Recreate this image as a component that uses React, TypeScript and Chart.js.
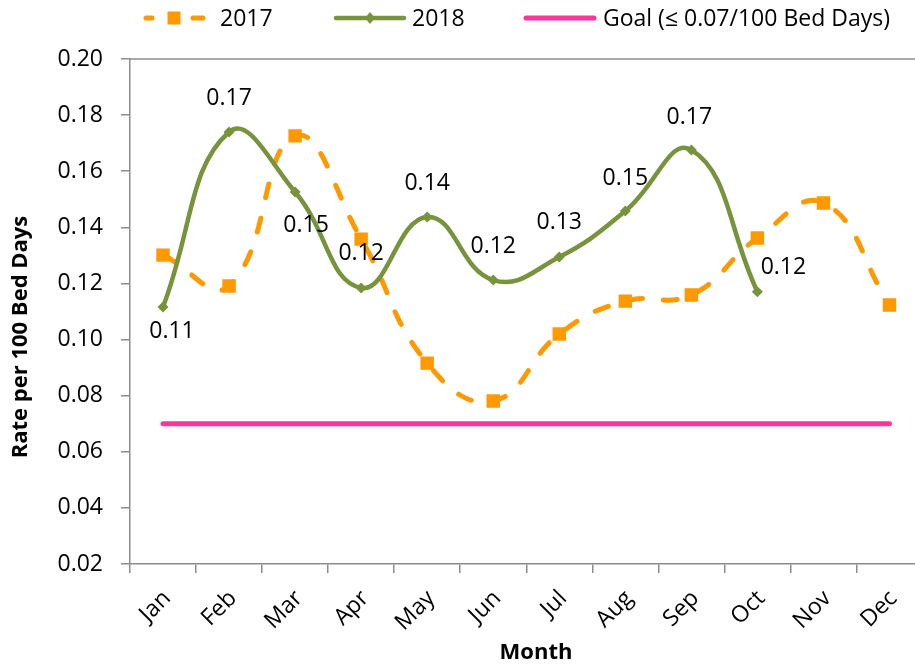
import React, { useEffect, useRef } from 'react';
import { Chart, registerables } from 'chart.js';

Chart.register(...registerables);

const months = ['Jan', 'Feb', 'Mar', 'Apr', 'May', 'Jun', 'Jul', 'Aug', 'Sep', 'Oct', 'Nov', 'Dec'];
const rate2017 = [0.1301, 0.1191, 0.1726, 0.1358, 0.0916, 0.0781, 0.102, 0.1137, 0.1159, 0.1362, 0.1487, 0.1123];
const rate2018: (number | null)[] = [0.1116, 0.174, 0.1526, 0.1184, 0.1437, 0.1212, 0.1294, 0.1458, 0.1676, 0.117, null, null];
const goalValue = 0.07;
const goalLine = months.map(() => goalValue);
const yMin = 0.02;
const yMax = 0.2;
const yStep = 0.02;
const seriesNames = ['2017', '2018', 'Goal (\u2264 0.07/100 Bed Days)'];
// label offsets (dx, dy) from each 2018 point
const label2018Offset: [number, number][] = [
  [9, 24], [0, -33], [11, 33], [0, -34], [0, -33], [0, -34], [0, -35], [0, -33], [-2, -32], [26, -24],
];
const xTitle = 'Month';
const yTitle = 'Rate per 100 Bed Days';

const FONT = "'Open Sans', sans-serif";
const ORANGE = '#FF9900';
const GREEN = '#77933C';
const PINK = '#FF3399';
const AXIS = '#8C8C8C';

const decorPlugin = {
  id: 'decor',
  afterDatasetsDraw(chart: any) {
    const { ctx, chartArea } = chart;
    ctx.save();
    ctx.strokeStyle = AXIS;
    ctx.lineWidth = 1.5;
    ctx.beginPath();
    ctx.moveTo(chartArea.left, chartArea.top);
    ctx.lineTo(chartArea.right, chartArea.top);
    ctx.stroke();

    const meta = chart.getDatasetMeta(1);
    ctx.fillStyle = '#000';
    ctx.font = `23px ${FONT}`;
    ctx.textAlign = 'center';
    ctx.textBaseline = 'middle';
    meta.data.forEach((pt: any, i: number) => {
      const v = rate2018[i];
      if (v == null) return;
      const [dx, dy] = label2018Offset[i];
      ctx.fillText(v.toFixed(2), pt.x + dx, pt.y + dy);
    });
    ctx.restore();
  },
  afterDraw(chart: any) {
    const { ctx } = chart;
    ctx.save();
    ctx.fillStyle = '#000';
    ctx.font = `bold 22px ${FONT}`;
    ctx.textAlign = 'center';
    ctx.textBaseline = 'middle';
    ctx.fillText(xTitle, 536, 653);
    ctx.save();
    ctx.translate(21, 337);
    ctx.rotate(-Math.PI / 2);
    ctx.font = `bold 22px ${FONT}`;
    ctx.fillText(yTitle, 0, 0);
    ctx.restore();

    const ly = 18;
    ctx.lineCap = 'round';
    ctx.strokeStyle = ORANGE;
    ctx.lineWidth = 5;
    ctx.beginPath();
    ctx.moveTo(146, ly); ctx.lineTo(152, ly);
    ctx.moveTo(193, ly); ctx.lineTo(203, ly);
    ctx.stroke();
    ctx.fillStyle = ORANGE;
    ctx.fillRect(174 - 6.5, ly - 6.5, 13, 13);

    ctx.strokeStyle = GREEN;
    ctx.lineWidth = 4.5;
    ctx.beginPath();
    ctx.moveTo(336, ly); ctx.lineTo(404, ly);
    ctx.stroke();
    ctx.fillStyle = GREEN;
    ctx.beginPath();
    ctx.moveTo(370, ly - 6); ctx.lineTo(375, ly); ctx.lineTo(370, ly + 6); ctx.lineTo(365, ly);
    ctx.closePath();
    ctx.fill();

    ctx.strokeStyle = PINK;
    ctx.lineWidth = 5;
    ctx.beginPath();
    ctx.moveTo(526, ly); ctx.lineTo(594, ly);
    ctx.stroke();

    ctx.fillStyle = '#000';
    ctx.font = `23px ${FONT}`;
    ctx.textAlign = 'left';
    ctx.fillText(seriesNames[0], 220, ly + 1);
    ctx.fillText(seriesNames[1], 412, ly + 1);
    ctx.fillText(seriesNames[2], 603, ly + 1);
    ctx.restore();
  },
};

export default function App() {
  const canvasRef = useRef<HTMLCanvasElement | null>(null);

  useEffect(() => {
    if (!canvasRef.current) return;
    const chart = new Chart(canvasRef.current, {
      type: 'line',
      data: {
        labels: months,
        datasets: [
          {
            label: seriesNames[0],
            data: rate2017,
            borderColor: ORANGE,
            backgroundColor: ORANGE,
            borderWidth: 5,
            borderDash: [14, 21],
            borderCapStyle: 'round',
            tension: 0.45,
            pointStyle: 'rect',
            pointRadius: 9.5,
            pointBorderWidth: 0,
            pointBackgroundColor: ORANGE,
            order: 1,
          },
          {
            label: seriesNames[1],
            data: rate2018,
            borderColor: GREEN,
            backgroundColor: GREEN,
            borderWidth: 4.5,
            tension: 0.45,
            pointStyle: 'rectRot',
            pointRadius: 5.5,
            pointBorderWidth: 0,
            pointBackgroundColor: GREEN,
            spanGaps: false,
            order: 0,
          },
          {
            label: seriesNames[2],
            data: goalLine,
            borderColor: PINK,
            borderWidth: 5,
            borderCapStyle: 'round',
            pointRadius: 0,
            tension: 0,
            order: 2,
          },
        ],
      },
      options: {
        animation: false,
        responsive: false,
        devicePixelRatio: 1,
        layout: { padding: { top: 59, left: 0, right: 0, bottom: 0 } },
        plugins: {
          legend: { display: false },
          tooltip: { enabled: false },
          title: { display: false },
        },
        scales: {
          x: {
            type: 'category',
            offset: true,
            grid: {
              offset: true,
              drawOnChartArea: false,
              drawTicks: true,
              tickLength: 9,
              color: AXIS,
              lineWidth: 1.5,
            },
            border: { color: AXIS, width: 1.5 },
            ticks: {
              minRotation: 45,
              maxRotation: 45,
              padding: 12,
              labelOffset: 4,
              color: '#000',
              font: { family: FONT, size: 23 },
            },
            afterFit: (s: any) => { s.height = 102; },
          },
          y: {
            min: yMin,
            max: yMax,
            grid: {
              drawOnChartArea: false,
              drawTicks: true,
              tickLength: 9,
              color: AXIS,
              lineWidth: 1.5,
            },
            border: { color: AXIS, width: 1.5 },
            ticks: {
              stepSize: yStep,
              padding: 18,
              color: '#000',
              font: { family: FONT, size: 23 },
              callback: (v: any) => Number(v).toFixed(2),
            },
            afterFit: (s: any) => { s.width = 130; },
          },
        },
      },
      plugins: [decorPlugin],
    });
    return () => chart.destroy();
  }, []);

  return (
    <div style={{ position: 'fixed', left: 0, top: 0, width: 915, height: 666, overflow: 'hidden', background: '#fff' }}>
      <canvas ref={canvasRef} width={932} height={666} style={{ display: 'block' }} />
    </div>
  );
}
